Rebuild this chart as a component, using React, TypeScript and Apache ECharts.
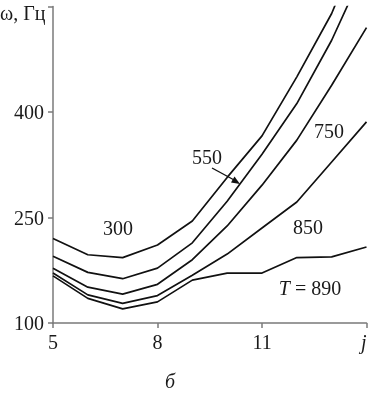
import React, { useEffect, useRef } from "react";
import * as echarts from "echarts";

const xValues = [5, 6, 7, 8, 9, 10, 11, 12, 13, 14];
const seriesNames = ["300", "550", "750", "850", "890"];
const t300 = [220, 197, 193, 211, 245, 307, 366, 450, 540, 660];
const t550 = [195, 172, 163, 178, 214, 273, 340, 412, 502, 610];
const t750 = [178, 151, 141, 155, 190, 238, 296, 360, 438, 520];
const t850 = [171, 140, 128, 139, 168, 198, 235, 272, 329, 386];
const t890 = [167, 135, 120, 130, 161, 171, 171, 193, 194, 208];
const yTicks = [100, 250, 400, 550];

const FONT = "'Liberation Serif', 'Times New Roman', serif";
const TXT = "#1a1a1a";
const FS = 20;

export default function App() {
  const ref = useRef<HTMLDivElement>(null);
  useEffect(() => {
    if (!ref.current) return;
    const chart = echarts.init(ref.current, null, { renderer: "svg" });
    const all = [t300, t550, t750, t850, t890];
    chart.setOption({
      animation: false,
      grid: { left: 53, right: 1.5, top: 6.5, bottom: 71, outerBoundsMode: "none" },
      xAxis: {
        type: "value",
        min: 5,
        max: 14,
        interval: 3,
        axisLine: { lineStyle: { color: "#7a7a7a", width: 1.5 } },
        axisTick: { show: true, length: 5, lineStyle: { color: "#7a7a7a", width: 1.5 } },
        splitLine: { show: false },
        axisLabel: {
          margin: 9,
          color: TXT,
          fontFamily: FONT,
          fontSize: FS,
          alignMaxLabel: "right",
          formatter: (v: number) => (v === 14 ? "{i|j}" : String(v)),
          rich: { i: { fontStyle: "italic", fontFamily: FONT, fontSize: FS, color: TXT } },
        },
      },
      yAxis: {
        type: "value",
        min: yTicks[0],
        max: yTicks[yTicks.length - 1],
        interval: 150,
        axisLine: { show: true, lineStyle: { color: "#7a7a7a", width: 1.5 } },
        axisTick: { show: true, length: 5, lineStyle: { color: "#7a7a7a", width: 1.5 } },
        splitLine: { show: false },
        axisLabel: {
          margin: 9,
          color: TXT,
          fontFamily: FONT,
          fontSize: FS,
          formatter: (v: number) => (v === 550 ? "" : String(v)),
        },
      },
      series: all.map((d, i) => ({
        name: seriesNames[i],
        type: "line",
        data: d.map((v, k) => [xValues[k], v]),
        symbol: "none",
        clip: true,
        lineStyle: { color: "#111", width: 1.7 },
      })),
      graphic: [
        { type: "text", left: 0, top: 3, style: { text: "ω, Гц", font: `${FS}px ${FONT}`, fill: TXT } },
        { type: "text", x: 118, y: 228, style: { text: "300", font: `${FS}px ${FONT}`, fill: TXT, align: "center", verticalAlign: "middle" } },
        { type: "text", x: 207, y: 157, style: { text: "550", font: `${FS}px ${FONT}`, fill: TXT, align: "center", verticalAlign: "middle" } },
        { type: "text", x: 329, y: 131, style: { text: "750", font: `${FS}px ${FONT}`, fill: TXT, align: "center", verticalAlign: "middle" } },
        { type: "text", x: 308, y: 227, style: { text: "850", font: `${FS}px ${FONT}`, fill: TXT, align: "center", verticalAlign: "middle" } },
        {
          type: "text",
          x: 310,
          y: 288,
          style: {
            text: "{i|T} = 890",
            font: `${FS}px ${FONT}`,
            fill: TXT,
            align: "center",
            verticalAlign: "middle",
            rich: { i: { fontStyle: "italic", fontFamily: FONT, fontSize: FS, fill: TXT } },
          },
        },
        { type: "text", x: 170, y: 381, style: { text: "б", font: `italic ${FS}px ${FONT}`, fill: TXT, align: "center", verticalAlign: "middle" } },
        { type: "line", shape: { x1: 212, y1: 168, x2: 236, y2: 181 }, style: { stroke: "#111", lineWidth: 1.4 } },
        { type: "polygon", shape: { points: [[240, 184], [231, 182.5], [234.5, 176.5]] }, style: { fill: "#111" } },
      ],
    });
    return () => chart.dispose();
  }, []);
  return <div ref={ref} style={{ position: "fixed", left: 0, top: 0, width: 368, height: 394 }} />;
}
